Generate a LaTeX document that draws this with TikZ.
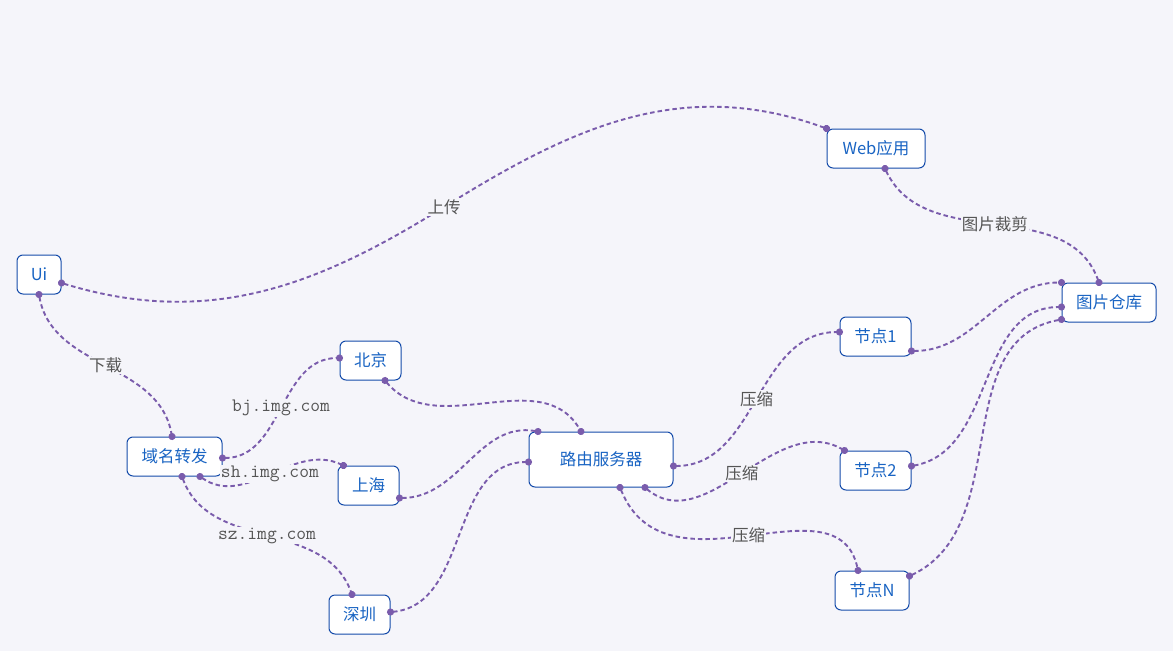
\documentclass[tikz,border=0pt]{standalone}
\usepackage{fontspec}
\setmainfont{Noto Sans CJK SC}
\newfontfamily\cjk{Noto Sans CJK SC}
\usetikzlibrary{arrows.meta}
\definecolor{bgc}{RGB}{245,245,250}
\definecolor{boxline}{RGB}{20,75,170}
\definecolor{boxtext}{RGB}{25,100,195}
\definecolor{edgec}{RGB}{122,92,172}
\definecolor{lblc}{RGB}{85,85,85}
\tikzset{
  box/.style={draw=boxline, line width=1pt, fill=white, rounded corners=6pt,
    text=boxtext, font=\cjk\fontsize{16.5}{18}\selectfont, inner sep=0pt,
    minimum height=39pt},
  edge/.style={draw=edgec, line width=1.9pt, dash pattern=on 4.5pt off 3pt,
    {Circle[length=7pt]}-{Circle[length=7pt]},
    shorten <=-3.5pt, shorten >=-3.5pt},
  lbl/.style={fill=bgc, text=lblc, inner sep=1pt, font=\cjk\fontsize{16.5}{18}\selectfont},
  url/.style={fill=bgc, text=lblc, inner sep=1pt, font=\ttfamily\fontsize{19}{20}\selectfont}
}
\begin{document}
\begin{tikzpicture}[x=1pt,y=-1pt]
\useasboundingbox (0,0) rectangle (1173,651);
\fill[bgc] (0,0) rectangle (1173,651);
% nodes
\node[box, minimum width=44pt] (ui) at (39,274.5) {Ui};
\node[box, minimum width=98pt] (web) at (876,148.5) {Web应用};
\node[box, minimum width=94pt] (repo) at (1109,302.5) {图片仓库};
\node[box, minimum width=71pt] (n1) at (875.5,336.5) {节点1};
\node[box, minimum width=71pt] (n2) at (875.5,470.5) {节点2};
\node[box, minimum width=74pt] (nN) at (872,590.5) {节点N};
\node[box, minimum width=144pt, minimum height=55pt] (router) at (601,459.5) {路由服务器};
\node[box, minimum width=61pt] (bj) at (370.5,360.5) {北京};
\node[box, minimum width=61pt] (sh) at (368.5,485.5) {上海};
\node[box, minimum width=61pt] (sz) at (359.5,614.5) {深圳};
\node[box, minimum width=95pt] (dns) at (174.5,456.5) {域名转发};
% edges
\draw[edge] ([yshift=-8.5pt]ui.east) to[out=-17,in=212] (444,207) node[lbl]{上传}
   to[out=32,in=160] (web.north west);
\draw[edge] (ui.south) to[out=-80,in=100] node[lbl]{下载} ([xshift=-2.5pt]dns.north);
\draw[edge] ([yshift=-1.5pt]dns.east) to[out=0,in=180] node[url]{bj.img.com} ([yshift=2.5pt]bj.west);
\draw[edge] ([xshift=25.5pt]dns.south) to[out=-35,in=155] node[url]{sh.img.com} ([xshift=6pt]sh.north west);
\draw[edge] ([xshift=7.5pt]dns.south) to[out=-70,in=110] node[url]{sz.img.com} ([xshift=-7.5pt]sz.north);
\draw[edge] ([xshift=14.5pt]bj.south) to[out=-50,in=120] ([xshift=-20pt]router.north);
\draw[edge] ([yshift=-12.5pt]sh.east) to[out=0,in=170] ([xshift=-63pt]router.north);
\draw[edge] ([yshift=2.5pt]sz.east) to[out=5,in=180] ([yshift=-2.5pt]router.west);
\draw[edge] ([yshift=-6.5pt]router.east) to[out=0,in=180] node[lbl]{压缩} ([yshift=4.5pt]n1.west);
\draw[edge] ([xshift=44pt]router.south) to[out=-40,in=150] node[lbl]{压缩} ([xshift=5pt]n2.north west);
\draw[edge] ([xshift=19pt]router.south) to[out=-68,in=102,out looseness=1.25] node[lbl]{压缩} ([xshift=-14pt]nN.north);
\draw[edge] ([yshift=-14.5pt]n1.east) to[out=0,in=180] (repo.north west);
\draw[edge] ([yshift=4.5pt]n2.east) to[out=10,in=180] ([yshift=-4.5pt]repo.west);
\draw[edge] ([yshift=14.5pt]nN.east) to[out=25,in=190] ([yshift=-17pt]repo.west);
\draw[edge] ([xshift=9pt]web.south) to[out=-65,in=110] node[lbl]{图片裁剪} ([xshift=-10pt]repo.north);
\end{tikzpicture}
\end{document}
